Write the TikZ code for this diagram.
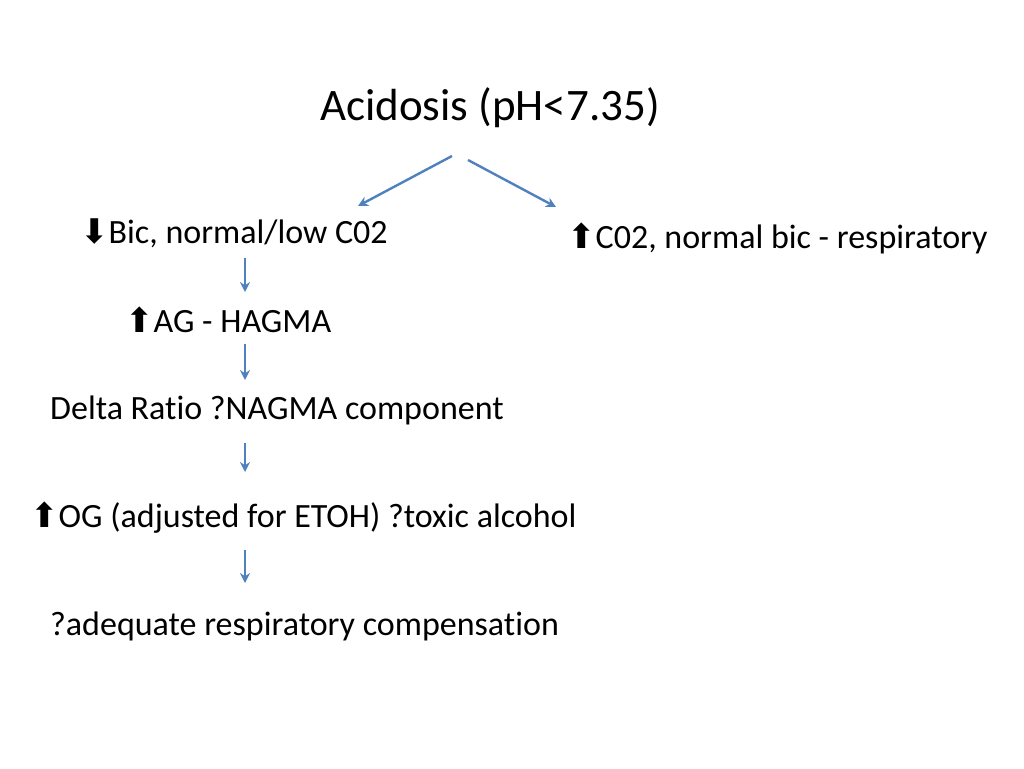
\documentclass[tikz,border=0pt]{standalone}
\usepackage{fontspec}
\setmainfont[Ligatures=NoCommon]{Carlito}
\newfontfamily\symf{DejaVu Sans}
\usetikzlibrary{arrows.meta}
\definecolor{arr}{RGB}{79,129,189}
\begin{document}
\begin{tikzpicture}[x=1pt,y=-1pt,
  txt/.style={anchor=west,inner sep=0pt,font=\fontsize{34}{38}\selectfont},
  con/.style={draw=arr,line width=2.4pt,-{Stealth[length=10pt,width=10pt]}}]
\useasboundingbox (0,0) rectangle (1024,768);
\node[inner sep=0pt,font=\fontsize{45}{50}\selectfont] (t) at (490,108) {Acidosis (pH<7.35)};
\node[txt] (a) at (80,233) {{\symf ⬇}Bic, normal/low C02};
\node[txt] (b) at (567,238) {{\symf ⬆}C02, normal bic - respiratory};
\node[txt] (c) at (125,320) {{\symf ⬆}AG - HAGMA};
\node[txt] (d) at (50,410) {Delta Ratio ?NAGMA component};
\node[txt] (e) at (30,518) {{\symf ⬆}OG (adjusted for ETOH) ?toxic alcohol};
\node[txt] (f) at (50,626) {?adequate respiratory compensation};
\coordinate (s1) at (452,156); \coordinate (e1) at (358,206);
\coordinate (s2) at (468,160); \coordinate (e2) at (556,207);
\draw[con] (s1) -- (e1);
\draw[con] (s2) -- (e2);
\foreach \i/\a/\b in {1/258/292,2/344/380,3/443/472,4/550/583}{
  \coordinate (v\i) at (245,\a); \coordinate (w\i) at (245,\b);
  \draw[con] (v\i) -- (w\i);}
\end{tikzpicture}
\end{document}
